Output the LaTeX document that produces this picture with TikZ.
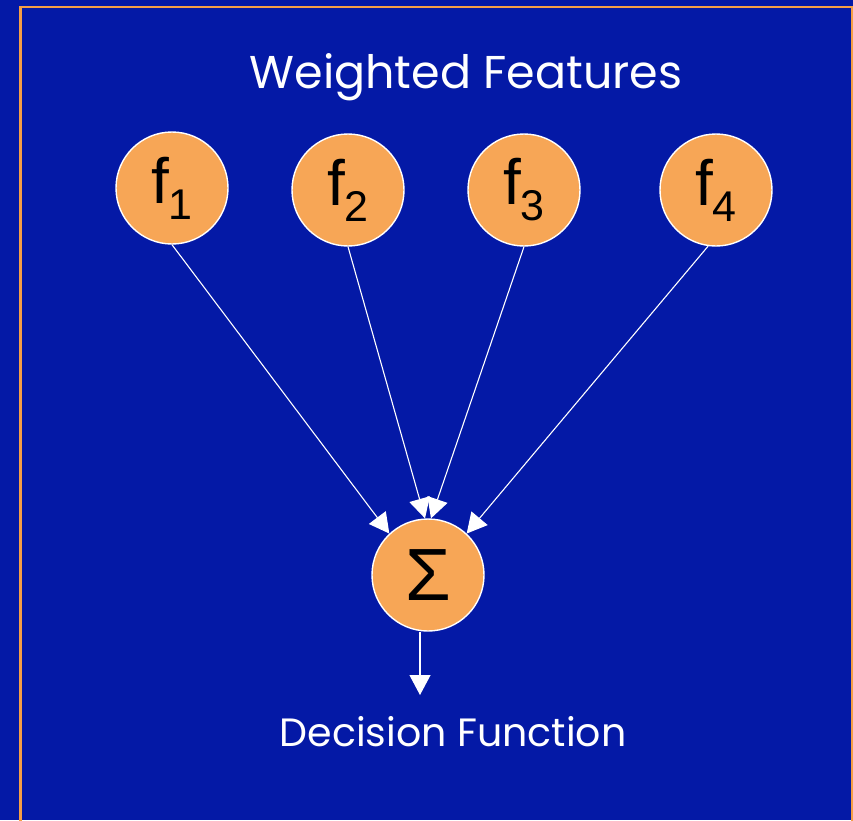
\documentclass[tikz,border=0pt]{standalone}
\usepackage{fontspec}
\setmainfont{Liberation Sans}
\newfontfamily\capfont{Poppins}
\usetikzlibrary{arrows.meta}
\definecolor{bgblue}{RGB}{4,25,166}
\definecolor{nodeorange}{RGB}{247,166,86}
\definecolor{frameorange}{RGB}{245,158,70}
\newcommand{\feat}[1]{f\raisebox{-16pt}{\fontsize{43}{43}\selectfont #1}}
\begin{document}
\begin{tikzpicture}[x=1pt,y=-1pt,
  featnode/.style={circle, draw=white, line width=1.4pt, fill=nodeorange,
    minimum size=112pt, inner sep=0pt, font=\fontsize{64}{64}\selectfont},
  link/.style={draw=white, line width=1.1pt, -{Triangle[width=21pt,length=20pt]}},
  caption/.style={text=white}]
  % page and frame
  \fill[bgblue] (0,0) rectangle (853,820);
  \useasboundingbox (0,0) rectangle (853,820);
  \draw[frameorange, line width=2.6pt] (20.5,830) -- (20.5,7) -- (852,7) -- (852,830);

  % feature nodes
  \node[featnode] (f1) at (172,188) {\feat{1}};
  \node[featnode] (f2) at (348,190) {\feat{2}};
  \node[featnode] (f3) at (524,190) {\feat{3}};
  \node[featnode] (f4) at (716,190) {\feat{4}};

  % summation node
  \node[featnode, font=\fontsize{74}{74}\selectfont] (sum) at (428,575) {\raisebox{-4pt}{Σ}};

  % labels
  \node[caption, font=\capfont\fontsize{46}{52}\selectfont] (title) at (466,77) {Weighted Features};
  \node[caption, font=\capfont\fontsize{39.5}{46}\selectfont] (out) at (453,732) {Decision Function};
  \coordinate (outtip) at (420,695);

  % connectors
  \draw[link] (f1.south) -- (sum.133);
  \draw[link] (f2.south) -- (sum.93);
  \draw[link] (f3.south) -- (sum.87);
  \draw[link] (f4.262) -- (sum.47);
  \draw[link] (sum.south -| outtip) -- (outtip);
\end{tikzpicture}
\end{document}
